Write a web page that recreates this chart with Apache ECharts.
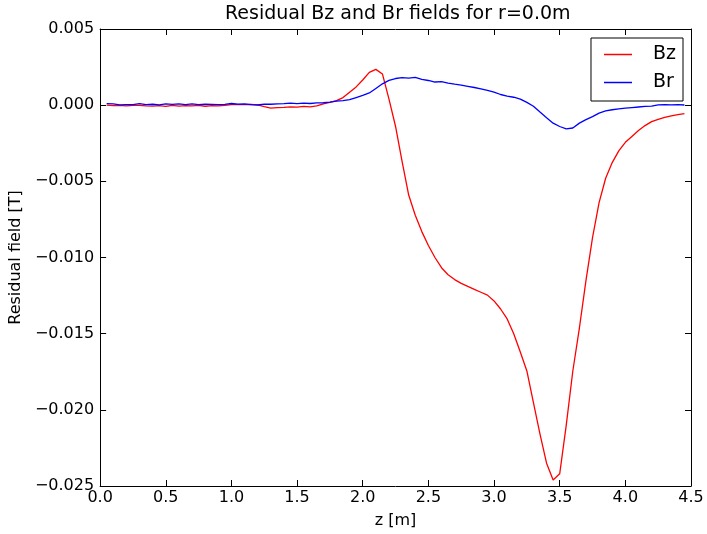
<!DOCTYPE html>
<html><head><meta charset="utf-8">
<script src="https://cdn.jsdelivr.net/npm/echarts@6/dist/echarts.min.js"></script>
<style>html,body{margin:0;padding:0;background:#fff}#c{width:707px;height:534px}</style>
</head><body><div id="c"></div>
<script>
const zValues = [0.05,0.10,0.15,0.20,0.25,0.30,0.35,0.40,0.45,0.50,0.55,0.60,0.65,0.70,0.75,0.80,0.85,0.90,0.95,1.00,
1.05,1.10,1.15,1.20,1.25,1.30,1.35,1.40,1.45,1.50,1.55,1.60,1.65,1.70,1.75,1.80,1.85,1.90,1.95,2.00,
2.05,2.10,2.15,2.20,2.25,2.30,2.35,2.40,2.45,2.50,2.55,2.60,2.65,2.70,2.75,2.80,2.85,2.90,2.95,3.00,
3.05,3.10,3.15,3.20,3.25,3.30,3.35,3.40,3.45,3.50,3.55,3.60,3.65,3.70,3.75,3.80,3.85,3.90,3.95,4.00,
4.05,4.10,4.15,4.20,4.25,4.30,4.35,4.40,4.45];
const bzValues = [0.00000,-0.00003,-0.00002,-0.00005,-0.00002,-0.00001,-0.00005,-0.00006,-0.00003,-0.00008,
-0.00002,-0.00006,-0.00003,-0.00005,-0.00001,-0.00007,-0.00003,-0.00005,-0.00001,0.00003,
0.00004,0.00003,0.00005,0.00002,-0.00010,-0.00020,-0.00016,-0.00014,-0.00011,-0.00013,
-0.00008,-0.00011,-0.00005,0.00008,0.00018,0.00030,0.00050,0.00085,0.00120,0.00165,
0.00215,0.00235,0.00205,0.00040,-0.00140,-0.00370,-0.00590,-0.00723,-0.00830,-0.00921,
-0.01000,-0.01067,-0.01113,-0.01145,-0.01170,-0.01190,-0.01209,-0.01228,-0.01247,-0.01285,
-0.01338,-0.01403,-0.01501,-0.01620,-0.01745,-0.01952,-0.02160,-0.02350,-0.02460,-0.02420,
-0.02100,-0.01745,-0.01463,-0.01152,-0.00870,-0.00640,-0.00480,-0.00377,-0.00300,-0.00244,
-0.00205,-0.00166,-0.00134,-0.00108,-0.00093,-0.00080,-0.00070,-0.00062,-0.00055];
const brValues = [0.00010,0.00008,0.00002,0.00004,0.00003,0.00010,0.00003,0.00006,0.00002,0.00008,
0.00005,0.00009,0.00004,0.00008,0.00004,0.00006,0.00005,0.00004,0.00005,0.00011,
0.00007,0.00008,0.00003,0.00001,0.00007,0.00006,0.00008,0.00010,0.00014,0.00010,
0.00013,0.00011,0.00015,0.00016,0.00020,0.00026,0.00030,0.00036,0.00050,0.00064,
0.00080,0.00110,0.00140,0.00163,0.00175,0.00181,0.00178,0.00183,0.00170,0.00162,
0.00152,0.00154,0.00145,0.00138,0.00132,0.00124,0.00116,0.00107,0.00097,0.00086,
0.00070,0.00060,0.00052,0.00040,0.00018,-0.00007,-0.00045,-0.00082,-0.00118,-0.00140,
-0.00155,-0.00150,-0.00118,-0.00095,-0.00075,-0.00052,-0.00038,-0.00030,-0.00025,-0.00020,
-0.00016,-0.00012,-0.00008,-0.00006,0.00002,0.00003,0.00002,0.00003,0.00001];
const seriesNames = ['Bz','Br'];
const titleText = 'Residual Bz and Br fields for r=0.0m';
const xName = 'z [m]';
const yName = 'Residual field [T]';

const FONT = 'DejaVu Sans';
const chart = echarts.init(document.getElementById('c'), null, {renderer:'canvas'});
const pair = (xs, ys) => xs.map((x,i)=>[x, ys[i]]);
const tickCommon = {show:true, inside:true, length:6, lineStyle:{color:'#000', width:1}};
const lineCommon = {show:true, onZero:false, lineStyle:{color:'#000', width:1}};
chart.setOption({
  animation:false,
  backgroundColor:'#fff',
  title:{text:titleText, left:220, top:0, textStyle:{fontFamily:FONT, fontSize:19, fontWeight:'normal', color:'#000'}},
  legend:{
    data:seriesNames, orient:'vertical', right:24, top:38,
    borderColor:'#000', borderWidth:1, borderRadius:0, padding:[7,7,9,13],
    icon:'rect', itemWidth:28, itemHeight:1.5, itemGap:9,
    textStyle:{fontFamily:FONT, fontSize:19, color:'#000', lineHeight:19, padding:[0,0,0,16]}
  },
  grid:{left:97, right:16, top:29, bottom:44, containLabel:false},
  xAxis:[{
    type:'value', min:0, max:4.5, interval:0.5, position:'bottom',
    name:xName, nameLocation:'middle', nameGap:27,
    nameTextStyle:{fontFamily:FONT, fontSize:16, color:'#000'},
    axisLine:lineCommon, axisTick:tickCommon, splitLine:{show:false},
    axisLabel:{fontFamily:FONT, fontSize:16, color:'#000', margin:4, formatter:v=>v.toFixed(1)}
  },{
    type:'value', min:0, max:4.5, interval:0.5, position:'top',
    axisLine:lineCommon, axisTick:tickCommon, splitLine:{show:false}, axisLabel:{show:false}
  }],
  yAxis:[{
    type:'value', min:-0.025, max:0.005, interval:0.005, position:'left',
    name:yName, nameLocation:'middle', nameGap:69, nameRotate:90,
    nameTextStyle:{fontFamily:FONT, fontSize:16, color:'#000'},
    axisLine:lineCommon, axisTick:tickCommon, splitLine:{show:false},
    axisLabel:{fontFamily:FONT, fontSize:16, color:'#000', margin:6, formatter:v=>v.toFixed(3).replace('-','\u2212')}
  },{
    type:'value', min:-0.025, max:0.005, interval:0.005, position:'right',
    axisLine:lineCommon, axisTick:tickCommon, splitLine:{show:false}, axisLabel:{show:false}
  }],
  series:[
    {name:seriesNames[0], type:'line', data:pair(zValues,bzValues), symbol:'none', smooth:false,
     lineStyle:{color:'#ff0000', width:1.3}, itemStyle:{color:'#ff0000'}},
    {name:seriesNames[1], type:'line', data:pair(zValues,brValues), symbol:'none', smooth:false,
     lineStyle:{color:'#0000ff', width:1.3}, itemStyle:{color:'#0000ff'}}
  ]
});
</script></body></html>
